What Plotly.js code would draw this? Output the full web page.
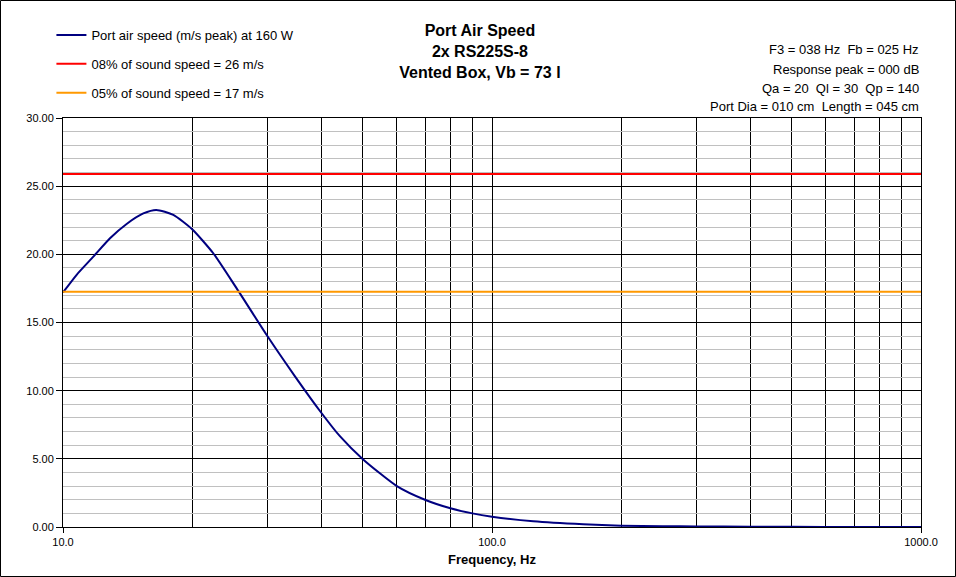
<!DOCTYPE html>
<html>
<head>
<meta charset="utf-8">
<script src="https://cdn.plot.ly/plotly-3.0.1.min.js"></script>
<style>
  body { margin: 0; background: #fff; }
  #plot { width: 956px; height: 577px; }
</style>
</head>
<body>
<div id="plot"></div>
<script>
// port air speed curve (Hz, m/s peak)
var freqHz = [10, 10.76, 11.77, 12.87, 14.07, 15.39, 16.5, 18.08, 20, 22.4, 25.4, 30, 34.7, 40, 44.2, 50, 60, 70, 80, 90, 100, 124.8, 163.2, 200, 250, 300, 400, 500, 700, 1000];
var airSpeed = [17.2, 18.5, 19.83, 21.18, 22.23, 23.0, 23.26, 22.89, 21.84, 20.08, 17.5, 13.97, 11.07, 8.38, 6.66, 4.97, 3.0, 1.98, 1.37, 1.0, 0.76, 0.42, 0.2, 0.1, 0.06, 0.04, 0.02, 0.01, 0.005, 0.003];

// limit lines
var limitX = [10, 1000];
var limit8 = [25.9, 25.9];
var limit5 = [17.25, 17.25];

var legendNames = [
  'Port air speed (m/s peak) at 160 W',
  '08% of sound speed = 26 m/s',
  '05% of sound speed = 17 m/s'
];

var xTickVals = [10, 100, 1000];
var xTickText = ['10.0', '100.0', '1000.0'];
var xGridVals = [20, 30, 40, 50, 60, 70, 80, 90, 200, 300, 400, 500, 600, 700, 800, 900];

var infoLines = [
  'F3 = 038 Hz  Fb = 025 Hz',
  'Response peak = 000 dB',
  'Qa = 20  Ql = 30  Qp = 140',
  'Port Dia = 010 cm  Length = 045 cm'
];

var font = 'Liberation Sans, Arial, sans-serif';

var data = [
  {
    x: freqHz, y: airSpeed, name: legendNames[0], legendgroup: 'a',
    mode: 'lines', line: {color: '#000080', width: 2, shape: 'spline', smoothing: 0.6}
  },
  {
    x: limitX, y: limit8, name: legendNames[1], legendgroup: 'b',
    mode: 'lines', line: {color: '#ff0000', width: 2}
  },
  {
    x: limitX, y: limit5, name: legendNames[2], legendgroup: 'c',
    mode: 'lines', line: {color: '#ff9900', width: 2}
  }
];

var ph = 409; // plot height in px, for placing the text lines
var annotations = infoLines.map(function (t, i) {
  return {
    text: t, xref: 'paper', yref: 'paper',
    x: 1, y: 1 + (118 - 50 - i * 19) / ph,
    xanchor: 'right', yanchor: 'middle', showarrow: false,
    font: {family: font, size: 13, color: '#000'}
  };
});

var layout = {
  width: 956, height: 577,
  margin: {l: 63, r: 35, t: 118, b: 50},
  paper_bgcolor: '#fff', plot_bgcolor: '#fff',
  font: {family: font, size: 11, color: '#000'},
  hovermode: false,
  title: {
    text: '<b>Port Air Speed<br>2x RS225S-8<br>Vented Box, Vb = 73 l</b>',
    xref: 'container', x: 0.502, xanchor: 'center',
    yref: 'container', y: 1 - 36 / 577, yanchor: 'top',
    font: {family: font, size: 16, color: '#000'}
  },
  showlegend: true,
  legend: {
    x: -0.0135, y: 1 + (118 - 20) / ph, xanchor: 'left', yanchor: 'top',
    bgcolor: 'rgba(0,0,0,0)', tracegroupgap: 9,
    font: {family: font, size: 13, color: '#000'}
  },
  xaxis: {
    type: 'log', range: [1, 3],
    tickvals: xTickVals, ticktext: xTickText,
    ticks: 'outside', ticklen: 5, tickcolor: '#000',
    showline: true, linecolor: '#000', mirror: true,
    showgrid: true, gridcolor: '#000', gridwidth: 1,
    minor: {tickvals: xGridVals, showgrid: true, gridcolor: '#000', gridwidth: 1, ticks: ''},
    zeroline: false,
    tickfont: {family: font, size: 11, color: '#000'},
    title: {text: '<b>Frequency, Hz</b>', standoff: 7, font: {family: font, size: 13, color: '#000'}}
  },
  yaxis: {
    range: [0, 30], dtick: 5, tickformat: '.2f',
    ticks: 'outside', ticklen: 6, tickcolor: '#000',
    showline: true, linecolor: '#000', mirror: true,
    showgrid: true, gridcolor: '#000', gridwidth: 1,
    minor: {dtick: 1, showgrid: true, gridcolor: '#c0c0c0', gridwidth: 1, ticks: ''},
    zeroline: false,
    tickfont: {family: font, size: 11, color: '#000'}
  },
  annotations: annotations,
  shapes: [{
    type: 'rect', xref: 'paper', yref: 'paper', layer: 'above',
    x0: (0.5 - 63) / 858, x1: (955.5 - 63) / 858,
    y0: (527 - 576.5) / ph, y1: 1 + (118 - 0.5) / ph,
    line: {color: '#000', width: 1}
  }]
};

Plotly.newPlot('plot', data, layout, {displayModeBar: false, staticPlot: true});
</script>
</body>
</html>
